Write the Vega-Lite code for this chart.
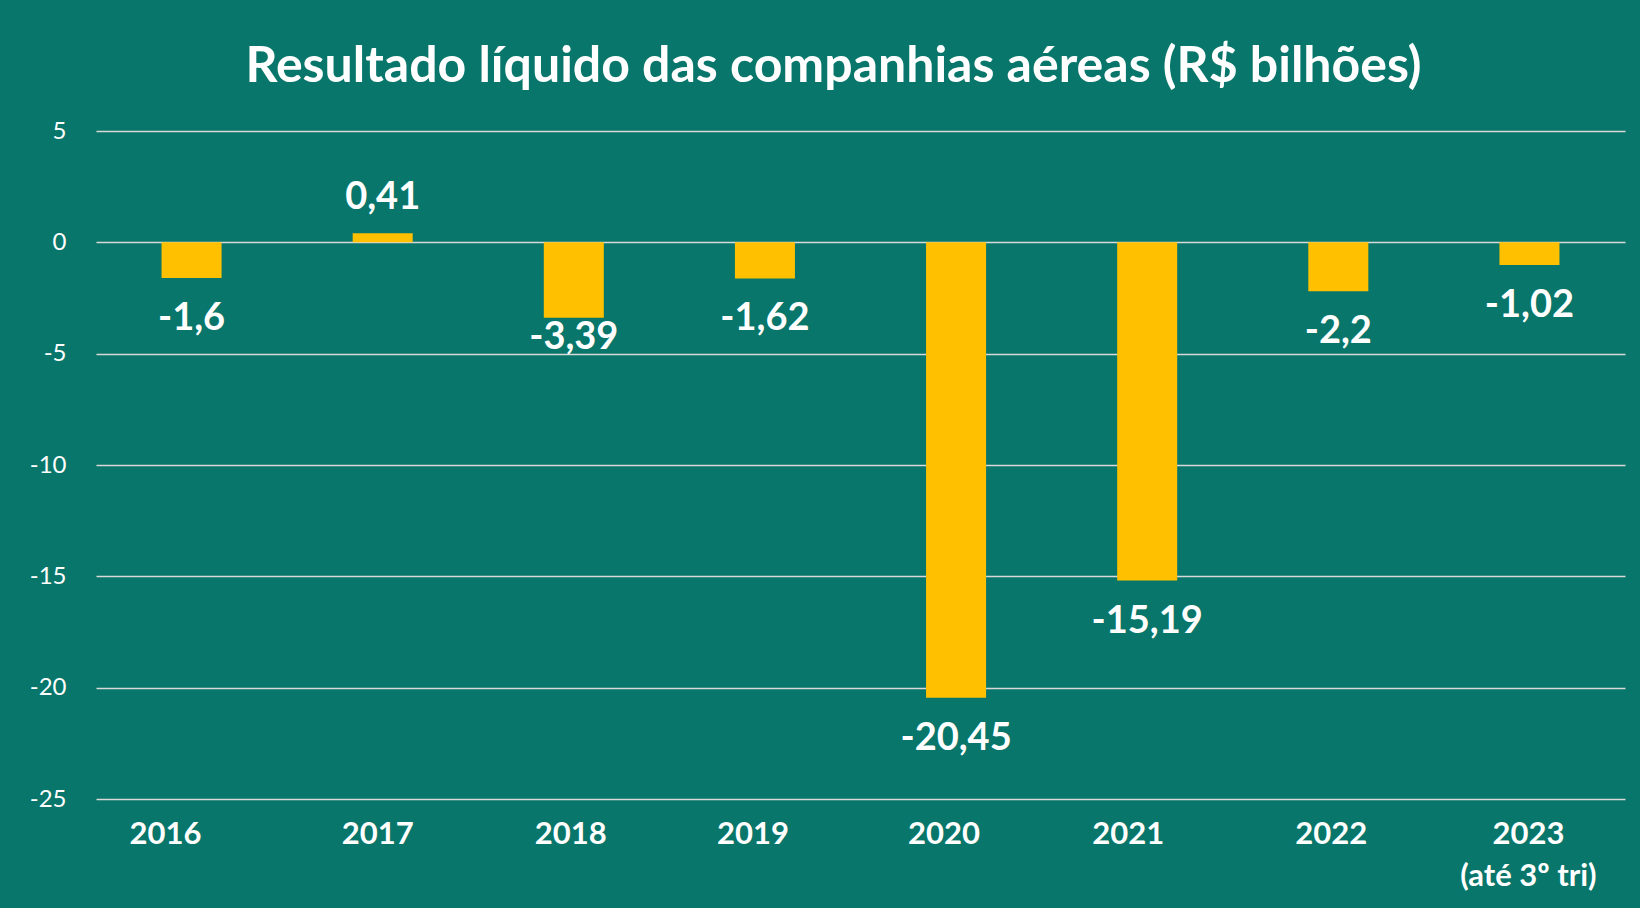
{
  "$schema": "https://vega.github.io/schema/vega-lite/v6.json",
  "autosize": {"type": "none"},
  "width": 1529,
  "height": 668,
  "padding": {"left": 96, "top": 131, "right": 15, "bottom": 109},
  "background": "#08766A",
  "config": {
    "view": {"stroke": null},
    "font": "Lato",
    "locale": {"number": {"decimal": ",", "thousands": ".", "grouping": [3], "currency": ["R$", ""], "minus": "-"}}
  },
  "title": {
    "text": "Resultado líquido das companhias aéreas (R$ bilhões)",
    "font": "Lato",
    "fontSize": 50,
    "fontWeight": "bold",
    "color": "#FFFFFF",
    "anchor": "middle",
    "dx": -27,
    "offset": 27
  },
  "data": {
    "values": [
      {"year": "2016", "value": -1.6},
      {"year": "2017", "value": 0.41},
      {"year": "2018", "value": -3.39},
      {"year": "2019", "value": -1.62},
      {"year": "2020", "value": -20.45},
      {"year": "2021", "value": -15.19},
      {"year": "2022", "value": -2.2},
      {"year": "2023", "value": -1.02}
    ]
  },
  "encoding": {
    "x": {
      "field": "year",
      "type": "nominal",
      "sort": null,
      "scale": {"paddingInner": 0.686, "paddingOuter": 0.343},
      "axis": {
        "title": null,
        "labelAngle": 0,
        "domain": false,
        "ticks": false,
        "labelFont": "Lato",
        "labelFontWeight": "bold",
        "labelFontSize": 31,
        "labelColor": "#FFFFFF",
        "labelPadding": 20,
        "labelLineHeight": 42,
        "labelExpr": "datum.value == '2023' ? ['2023', '(até 3º tri)'] : datum.value",
        "labelOffset": {
          "condition": [
            {"test": "datum.value == '2016'", "value": -26},
            {"test": "datum.value == '2017'", "value": -5},
            {"test": "datum.value == '2018'", "value": -3},
            {"test": "datum.value == '2019' || datum.value == '2020'", "value": -12},
            {"test": "datum.value == '2021'", "value": -19},
            {"test": "datum.value == '2022'", "value": -7}
          ],
          "value": -1
        }
      }
    },
    "y": {
      "field": "value",
      "type": "quantitative",
      "scale": {"domain": [-25, 5], "nice": false, "zero": false},
      "axis": {
        "title": null,
        "values": [-25, -20, -15, -10, -5, 0, 5],
        "domain": false,
        "ticks": false,
        "grid": true,
        "gridColor": "#D9D9D9",
        "gridWidth": 1.5,
        "labelFont": "Lato",
        "labelFontSize": 24,
        "labelColor": "#FFFFFF",
        "labelPadding": 30,
        "format": "d"
      }
    }
  },
  "layer": [
    {"mark": {"type": "bar", "color": "#FFC000"}},
    {
      "transform": [{"filter": "datum.value >= 0"}],
      "mark": {"type": "text", "font": "Lato", "fontWeight": "bold", "fontSize": 38, "color": "#FFFFFF", "baseline": "middle", "dy": -35},
      "encoding": {"text": {"field": "value", "type": "quantitative", "format": "~g"}}
    },
    {
      "transform": [{"filter": "datum.value < 0 && datum.year != '2018'"}],
      "mark": {"type": "text", "font": "Lato", "fontWeight": "bold", "fontSize": 38, "color": "#FFFFFF", "baseline": "middle", "dy": 41},
      "encoding": {"text": {"field": "value", "type": "quantitative", "format": "~g"}}
    },
    {
      "transform": [{"filter": "datum.year == '2018'"}],
      "mark": {"type": "text", "font": "Lato", "fontWeight": "bold", "fontSize": 38, "color": "#FFFFFF", "baseline": "middle", "dy": 20},
      "encoding": {"text": {"field": "value", "type": "quantitative", "format": "~g"}}
    }
  ]
}
